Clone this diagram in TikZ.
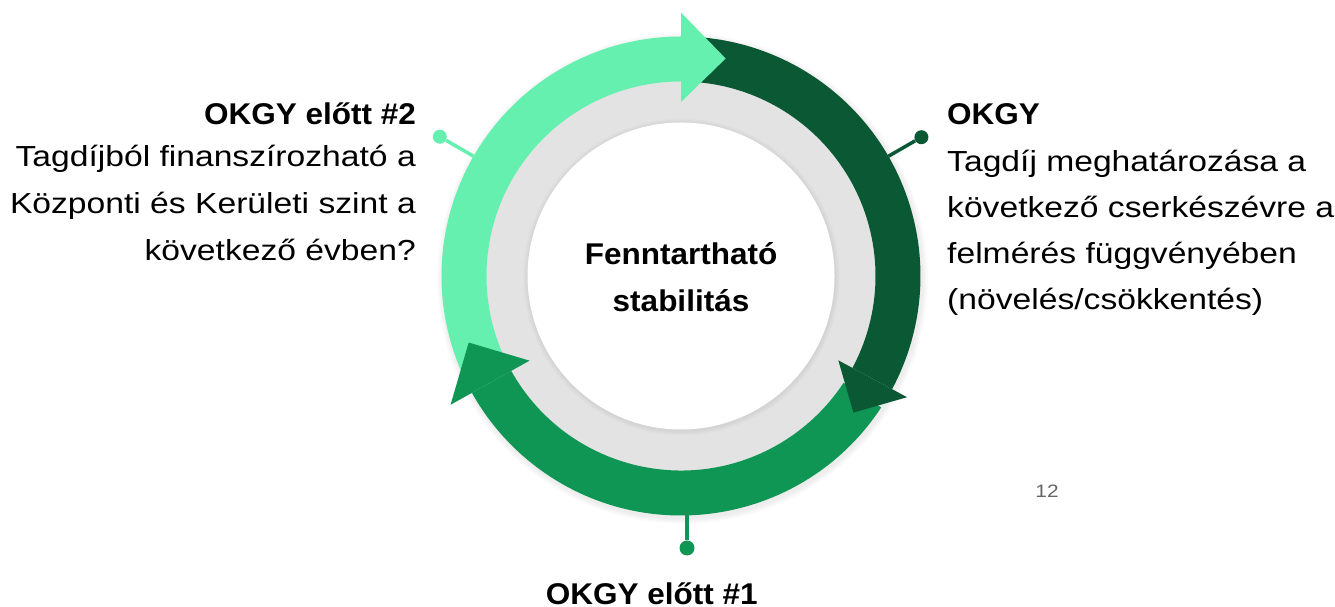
\documentclass[tikz,border=0pt]{standalone}
\usepackage{fontspec}
\setmainfont{Liberation Sans}
\newfontfamily\regf{Liberation Sans}[FakeStretch=1.16]
\newfontfamily\ttlf{Liberation Sans}[FakeStretch=1.05]
\definecolor{lgreen}{HTML}{66F0AF}
\definecolor{dgreen}{HTML}{0B5834}
\definecolor{mgreen}{HTML}{109654}
\definecolor{ringgray}{HTML}{E3E3E3}
\definecolor{pagegray}{HTML}{666666}
\tikzset{
  txt/.style={inner sep=0pt, font=\regf\fontsize{29}{35}\selectfont, text=black},
  ttl/.style={inner sep=0pt, font=\ttlf\bfseries\fontsize{30}{36}\selectfont, text=black},
  dot/.style={circle, inner sep=0pt, minimum size=14pt},
  link/.style={line width=3.5pt},
}
\newcommand{\sector}[4]{% color, start, end
  \fill[#1] (#2:239.5) arc[start angle=#2, end angle=#3, radius=239.5]
     -- (#3:194.5) arc[start angle=#3, end angle=#2, radius=194.5] -- cycle;}
\begin{document}
\begin{tikzpicture}[x=1pt,y=1pt]
\useasboundingbox (0,0) rectangle (1335,607);
\begin{scope}[shift={(681,331)}]
  % soft shadows
  \foreach \k in {1,...,6}{
    \fill[black, opacity=0.012] (1.5,-2.5) circle[radius=239.5+\k];
  }
  \fill[ringgray] (0,0) circle[radius=194.5];
  \foreach \k in {1,...,5}{
    \fill[black, opacity=0.012] (0.5,-1) circle[radius=153.5+\k];
  }
  \fill[white] (0,0) circle[radius=153.5];
  % arc bodies
  \sector{lgreen}{203}{90}{}
  \sector{dgreen}{84.2}{-28.2}{}
  \sector{mgreen}{-33.3}{-150.8}{}
  % heads
  \fill[lgreen] (90:174) -- (90:263.5) -- (78.4:222) -- cycle;
  \fill[dgreen] (-28.2:178.5) -- (-28.2:256.5) -- (-38.4:220) -- cycle;
  \fill[mgreen] (-150.8:173.5) -- (-150.8:264) -- (-162.6:222.5) -- cycle;
  % connectors
  \coordinate (al) at (150:239.5);
  \node[dot, fill=lgreen] (dl) at (150:278.5) {};
  \draw[link, lgreen] (al) -- (dl);
  \coordinate (ar) at (30:239.5);
  \node[dot, fill=dgreen] (dr) at (30:277.6) {};
  \draw[link, dgreen] (ar) -- (dr);
  \coordinate (ab) at (6,-239.4);
  \node[dot, fill=mgreen, minimum size=15pt] (db) at (6,-272) {};
  \draw[link, mgreen] (ab) -- (db);
\end{scope}
% centre text
\node[ttl, anchor=base] (c1) at (681,342) {Fenntartható};
\node[ttl, anchor=base] (c2) at (681,295.3) {stabilitás};
% left block
\node[ttl, anchor=base east] (lt) at (416,482) {OKGY előtt \#2};
\node[txt, anchor=base east] (l1) at (416,440) {Tagdíjból finanszírozható a};
\node[txt, anchor=base east] (l2) at (416,393) {Központi és Kerületi szint a};
\node[txt, anchor=base east] (l3) at (416,346) {következő évben?};
% right block
\node[ttl, anchor=base west] (rt) at (947,482) {OKGY};
\node[txt, anchor=base west] (r1) at (947,435) {Tagdíj meghatározása a};
\node[txt, anchor=base west] (r2) at (947,389) {következő cserkészévre a};
\node[txt, anchor=base west] (r3) at (947,343) {felmérés függvényében};
\node[txt, anchor=base west] (r4) at (947,297) {(növelés/csökkentés)};
% bottom
\node[ttl, anchor=base] (bt) at (651.7,2.5) {OKGY előtt \#1};
% page number
\node[inner sep=0pt, anchor=base, font=\regf\fontsize{18}{20}\selectfont, text=pagegray] (pg) at (1047,109) {12};
\end{tikzpicture}
\end{document}
